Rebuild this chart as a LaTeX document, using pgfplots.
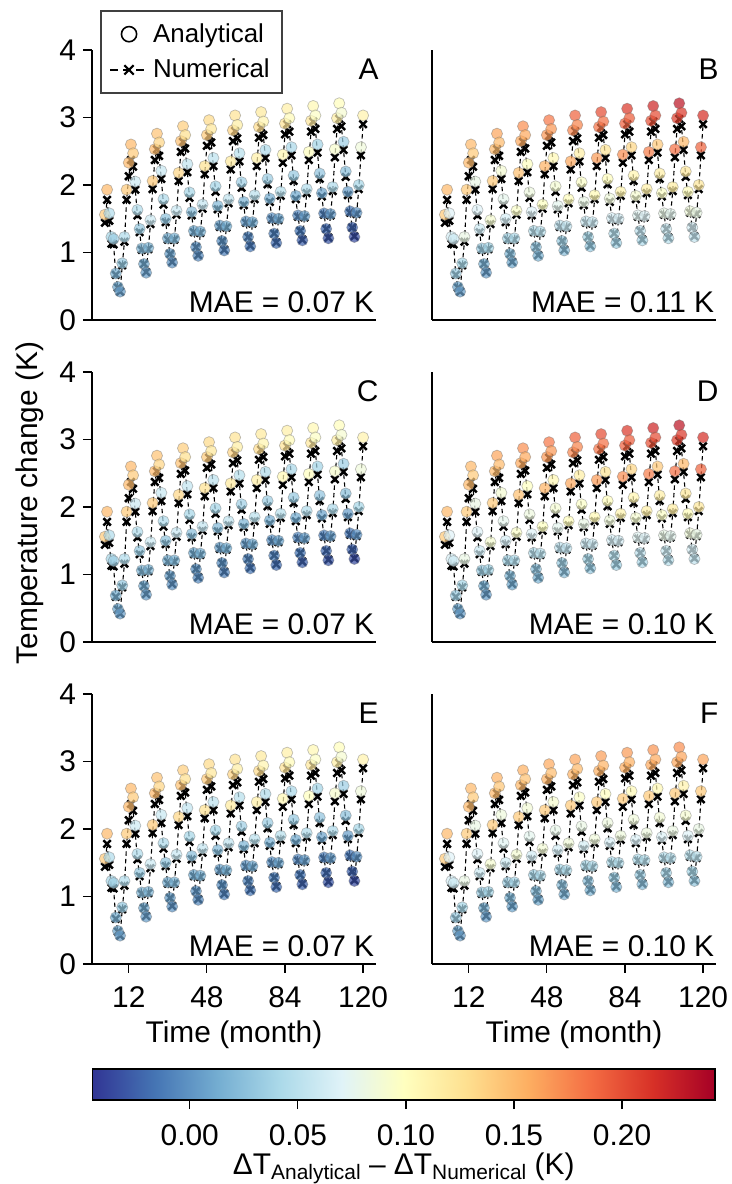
\documentclass[border=0pt]{standalone}
\usepackage{pgfplots}
\usepackage{pgfplotstable}
\pgfplotsset{compat=1.18}
\usepackage{fontspec}
\setmainfont{Liberation Sans}
\newcommand{\fs}{\fontsize{15}{18}\selectfont}
\newcommand{\lfs}{\fontsize{13}{15}\selectfont}

\pgfplotstableread{
m A N cA cB cF
1 1.56 1.44 0.14 0.14 0.14
2 1.93 1.78 0.15 0.15 0.15
3 1.58 1.47 0.045 0.07 0.07
4 1.23 1.13 0.04 0.065 0.065
5 1.20 1.12 0.035 0.06 0.06
6 0.69 0.67 0.015 0.035 0.035
7 0.49 0.48 0.01 0.01 0.01
8 0.42 0.42 0.005 0.005 0.005
9 0.84 0.81 0.03 0.04 0.04
10 1.23 1.16 0.045 0.08 0.08
11 1.93 1.78 0.14 0.14 0.14
12 2.33 2.13 0.15 0.15 0.15
13 2.60 2.37 0.15 0.15 0.15
14 2.47 2.27 0.14 0.14 0.14
15 2.05 1.93 0.06 0.08 0.08
16 1.63 1.55 0.045 0.07 0.07
17 1.35 1.30 0.03 0.06 0.06
18 1.06 1.04 0.02 0.035 0.035
19 0.83 0.83 0.01 0.015 0.015
20 0.70 0.71 0.005 0.005 0.005
21 1.07 1.05 0.02 0.04 0.04
22 1.48 1.42 0.06 0.09 0.09
23 2.06 1.94 0.14 0.14 0.14
24 2.53 2.37 0.15 0.15 0.15
25 2.76 2.53 0.144 0.16 0.153
26 2.63 2.43 0.134 0.149 0.143
27 2.21 2.09 0.057 0.089 0.084
28 1.79 1.71 0.043 0.076 0.073
29 1.50 1.45 0.027 0.065 0.061
30 1.21 1.19 0.016 0.041 0.037
31 0.98 0.98 0.006 0.021 0.018
32 0.85 0.86 0.0 0.011 0.008
33 1.21 1.19 0.018 0.045 0.041
34 1.62 1.56 0.058 0.094 0.089
35 2.18 2.06 0.133 0.146 0.14
36 2.65 2.49 0.145 0.158 0.151
37 2.87 2.64 0.138 0.17 0.155
38 2.74 2.54 0.128 0.158 0.145
39 2.31 2.19 0.054 0.098 0.088
40 1.89 1.81 0.04 0.083 0.075
41 1.60 1.55 0.024 0.07 0.063
42 1.32 1.30 0.011 0.048 0.039
43 1.08 1.08 0.001 0.028 0.021
44 0.95 0.96 -0.005 0.018 0.011
45 1.31 1.29 0.015 0.05 0.043
46 1.71 1.65 0.055 0.098 0.088
47 2.28 2.16 0.126 0.153 0.14
48 2.74 2.58 0.14 0.166 0.153
49 2.96 2.73 0.131 0.18 0.158
50 2.83 2.63 0.121 0.166 0.148
51 2.40 2.28 0.051 0.106 0.091
52 1.98 1.90 0.038 0.089 0.078
53 1.69 1.64 0.021 0.075 0.064
54 1.40 1.38 0.007 0.054 0.041
55 1.17 1.17 -0.003 0.034 0.024
56 1.03 1.04 -0.01 0.024 0.014
57 1.39 1.37 0.013 0.055 0.044
58 1.79 1.73 0.053 0.101 0.086
59 2.35 2.23 0.119 0.159 0.14
60 2.81 2.65 0.135 0.174 0.154
61 3.03 2.80 0.125 0.19 0.16
62 2.89 2.69 0.115 0.175 0.15
63 2.47 2.35 0.048 0.115 0.095
64 2.04 1.96 0.035 0.095 0.08
65 1.75 1.70 0.018 0.08 0.065
66 1.46 1.44 0.003 0.06 0.043
67 1.23 1.23 -0.008 0.04 0.028
68 1.09 1.10 -0.015 0.03 0.018
69 1.45 1.43 0.01 0.06 0.045
70 1.85 1.79 0.05 0.105 0.085
71 2.40 2.28 0.113 0.165 0.14
72 2.86 2.70 0.13 0.183 0.155
73 3.08 2.85 0.119 0.20 0.163
74 2.94 2.74 0.109 0.184 0.153
75 2.52 2.40 0.044 0.124 0.099
76 2.09 2.01 0.033 0.101 0.083
77 1.80 1.75 0.014 0.085 0.066
78 1.51 1.49 -0.002 0.066 0.044
79 1.28 1.28 -0.012 0.046 0.031
80 1.14 1.15 -0.02 0.036 0.021
81 1.50 1.48 0.008 0.065 0.046
82 1.90 1.84 0.048 0.109 0.084
83 2.45 2.33 0.106 0.171 0.14
84 2.91 2.75 0.125 0.191 0.156
85 3.13 2.90 0.113 0.21 0.165
86 2.99 2.79 0.103 0.193 0.155
87 2.56 2.44 0.041 0.133 0.103
88 2.14 2.06 0.03 0.108 0.085
89 1.84 1.79 0.011 0.09 0.068
90 1.55 1.53 -0.006 0.073 0.046
91 1.32 1.32 -0.016 0.053 0.034
92 1.18 1.19 -0.025 0.043 0.024
93 1.54 1.52 0.005 0.07 0.048
94 1.94 1.88 0.045 0.113 0.083
95 2.49 2.37 0.099 0.178 0.14
96 2.95 2.79 0.12 0.199 0.158
97 3.17 2.94 0.106 0.22 0.168
98 3.03 2.83 0.096 0.201 0.158
99 2.60 2.48 0.038 0.141 0.106
100 2.17 2.09 0.028 0.114 0.088
101 1.88 1.83 0.008 0.095 0.069
102 1.58 1.56 -0.011 0.079 0.048
103 1.35 1.35 -0.021 0.059 0.037
104 1.21 1.22 -0.03 0.049 0.027
105 1.57 1.55 0.003 0.075 0.049
106 1.97 1.91 0.043 0.116 0.081
107 2.53 2.41 0.092 0.184 0.14
108 2.99 2.83 0.115 0.207 0.159
109 3.21 2.98 0.10 0.23 0.17
110 3.07 2.87 0.09 0.21 0.16
111 2.64 2.52 0.035 0.15 0.11
112 2.20 2.12 0.025 0.12 0.09
113 1.90 1.85 0.005 0.10 0.07
114 1.61 1.59 -0.015 0.085 0.05
115 1.37 1.37 -0.025 0.065 0.04
116 1.23 1.24 -0.035 0.055 0.03
117 1.59 1.57 0.0 0.08 0.05
118 2.00 1.94 0.04 0.12 0.08
119 2.56 2.44 0.085 0.19 0.14
120 3.03 2.90 0.11 0.215 0.16
}\datatab

\pgfplotsset{
  colormap={rdylbu}{rgb255=(49,54,149) rgb255=(69,117,180) rgb255=(116,173,209)
    rgb255=(171,217,233) rgb255=(224,243,248) rgb255=(255,255,191) rgb255=(254,224,144)
    rgb255=(253,174,97) rgb255=(244,109,67) rgb255=(215,48,39) rgb255=(165,0,38)},
  panel/.style={scale only axis, width=142bp, height=135bp,
    anchor=south west,
    xmin=-4.95, xmax=125.95, ymin=0, ymax=4,
    axis x line*=bottom, axis y line*=left,
    tick align=outside, major tick length=4.5bp,
    tick style={line width=0.6bp, black},
    axis line style={line width=0.8bp, black},
    xtick=\empty, ytick=\empty, clip=false,
    colormap name=rdylbu,
    point meta min=-0.045, point meta max=0.243,
    tick label style={font=\fs},
    label style={font=\fs},
    /pgf/number format/assume math mode=true},
  leftp/.style={ytick={0,1,2,3,4}},
  bottomp/.style={xtick={12,48,84,120}, xlabel={Time (month)},
    xticklabel style={yshift=-3.5bp},
    xlabel style={at={(axis description cs:0.5,-0.262)}, anchor=center}},
}
\newcommand{\numplot}{\addplot[forget plot, black, line width=0.55bp,
   dash pattern=on 2.2bp off 1.6bp, mark=x, mark size=2.6bp,
   mark options={solid, line width=1.25bp}] table[x=m,y=N] {\datatab};}
\newcommand{\anaplot}[1]{\addplot[forget plot, scatter, only marks, mark=*, mark size=2.8bp,
   point meta=\thisrow{#1},
   scatter/use mapped color={draw=black!55, fill=mapped color},
   mark options={fill opacity=0.72, draw opacity=0.45, line width=0.35bp}]
   table[x=m,y=A] {\datatab};}
\newcommand{\tags}[2]{%
  \node[anchor=east, font=\fs, inner sep=0pt] at (rel axis cs:1.01,0.93) {#1};
  \node[anchor=base east, font=\fs, inner sep=0pt] at (rel axis cs:0.995,0.026) {MAE = #2 K};}

\begin{document}
\begin{tikzpicture}
\useasboundingbox (0,0) rectangle (366bp,592bp);

% Panel A
\begin{axis}[panel, leftp, at={(46bp,432bp)},
  legend style={at={(0.028,1.147)}, anchor=north west, draw=black!75,
    line width=1bp, font=\lfs, inner xsep=4bp, inner ysep=4bp,
    row sep=3bp, cells={anchor=west}},
  legend image code/.code={\draw[mark repeat=2,mark phase=2,#1]
    plot coordinates {(0bp,0bp) (9.5bp,0bp) (19bp,0bp)};}]
\addlegendimage{only marks, mark=o, mark size=3.8bp, black, line width=0.8bp}
\addlegendentry{Analytical}
\addlegendimage{black, line width=1.1bp, dash pattern=on 4bp off 2.5bp, mark=x,
  mark size=3.3bp, mark options={solid}}
\addlegendentry{Numerical}
\numplot
\anaplot{cA}
\tags{A}{0.07}
\end{axis}

% Panel B
\begin{axis}[panel, at={(216bp,432bp)}]
\numplot
\anaplot{cB}
\tags{B}{0.11}
\end{axis}

% Panel C
\begin{axis}[panel, leftp, at={(46bp,271bp)}]
\numplot
\anaplot{cA}
\tags{C}{0.07}
\end{axis}

% Panel D
\begin{axis}[panel, at={(216bp,271bp)}]
\numplot
\anaplot{cB}
\tags{D}{0.10}
\end{axis}

% Panel E
\begin{axis}[panel, leftp, bottomp, at={(46bp,110bp)}]
\numplot
\anaplot{cA}
\tags{E}{0.07}
\end{axis}

% Panel F
\begin{axis}[panel, bottomp, at={(216bp,110bp)}]
\numplot
\anaplot{cF}
\tags{F}{0.10}
\end{axis}

% Colorbar
\begin{axis}[at={(46.25bp,42bp)}, anchor=south west, scale only axis,
  width=311.25bp, height=15.5bp,
  xmin=-0.045, xmax=0.243, ymin=0, ymax=1, ytick=\empty,
  xtick={0,0.05,0.1,0.15,0.2}, xtick pos=left,
  tick align=outside, major tick length=4.5bp,
  tick style={line width=0.6bp, black},
  axis line style={line width=0.8bp, black},
  colormap name=rdylbu, axis on top,
  tick label style={font=\fs},
  xticklabel style={yshift=-4.5bp, /pgf/number format/.cd, fixed, fixed zerofill, precision=2, assume math mode=true},
  xlabel={ΔT\raisebox{-2.5bp}{\fontsize{10.5}{12}\selectfont Analytical} – ΔT\raisebox{-2.5bp}{\fontsize{10.5}{12}\selectfont Numerical} (K)},
  xlabel style={font=\fs, at={(axis description cs:0.5,-2.2)}, anchor=center}]
\addplot[surf, shader=interp, point meta=x, mesh/rows=2] coordinates {(-0.045,0) (0.243,0) (-0.045,1) (0.243,1)};
\end{axis}

\node[rotate=90, font=\fs] at (14.75bp,340.5bp) {Temperature change (K)};
\end{tikzpicture}
\end{document}
